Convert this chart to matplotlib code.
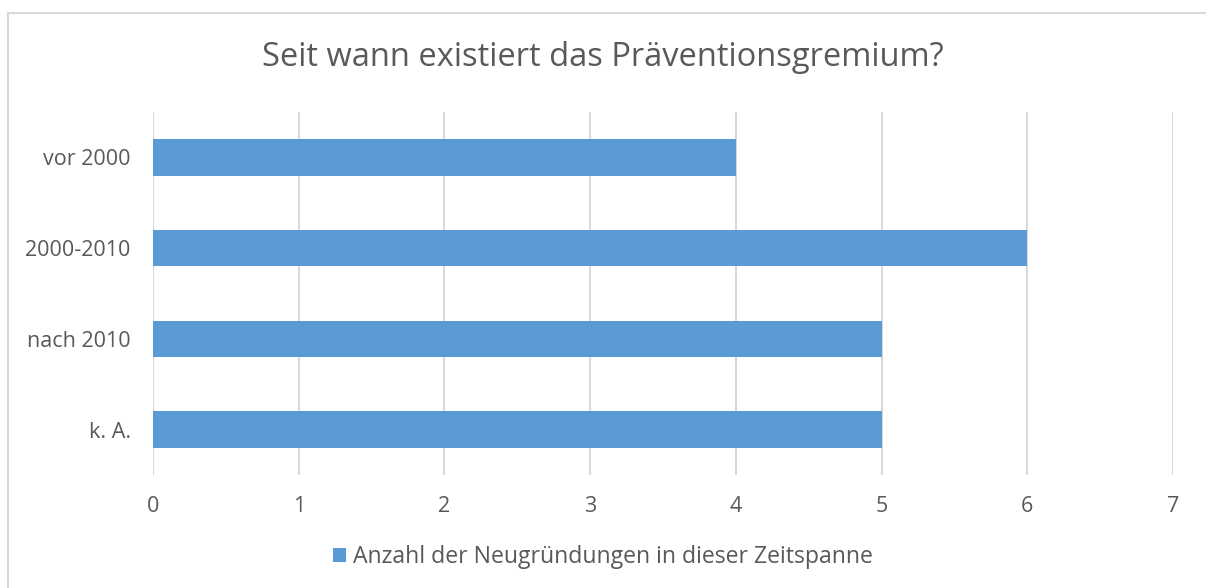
import matplotlib.pyplot as plt
from matplotlib.patches import Rectangle

categories = ["vor 2000", "2000-2010", "nach 2010", "k. A."]
counts = [4, 6, 5, 5]
series_name = "Anzahl der Neugründungen in dieser Zeitspanne"
title = "Seit wann existiert das Präventionsgremium?"

BLUE = "#5B9BD5"
TEXT = "#595959"
GRID = "#D9D9D9"

plt.rcParams["font.family"] = ["Open Sans", "DejaVu Sans"]

fig = plt.figure(figsize=(12.06, 5.88), dpi=100)
ax = fig.add_axes([0.1269, 0.1922, 0.8457, 0.6173])

# chart area border (runs off the right and bottom edges)
fig.patches.append(Rectangle((8 / 1206, -0.1), 1.2, 1 - 13 / 588 + 0.1,
                             transform=fig.transFigure, fill=False,
                             edgecolor=GRID, linewidth=1.5))

ypos = list(range(len(categories)))
ax.barh(ypos, counts, height=0.4, color=BLUE, label=series_name, zorder=3)

ax.set_ylim(len(categories) - 0.5, -0.5)
ax.set_xlim(0, 7)
ax.set_xticks(range(0, 8))
ax.set_yticks(ypos)
ax.set_yticklabels(categories)

ax.grid(axis="x", color=GRID, linewidth=1.5, zorder=0)
for s in ax.spines.values():
    s.set_visible(False)
ax.tick_params(axis="both", length=0, labelsize=15.5, labelcolor=TEXT)
ax.tick_params(axis="x", pad=15)
ax.tick_params(axis="y", pad=16)

fig.text(0.5, 1 - 58 / 588, title, ha="center", va="center",
         fontsize=23.5, color=TEXT)

leg = fig.legend(loc="center", bbox_to_anchor=(0.5, 1 - 557 / 588),
                 frameon=False, fontsize=16.6, handlelength=0.55,
                 handleheight=0.55, handletextpad=0.3, labelcolor=TEXT)

fig.savefig("out.png", dpi=100)
